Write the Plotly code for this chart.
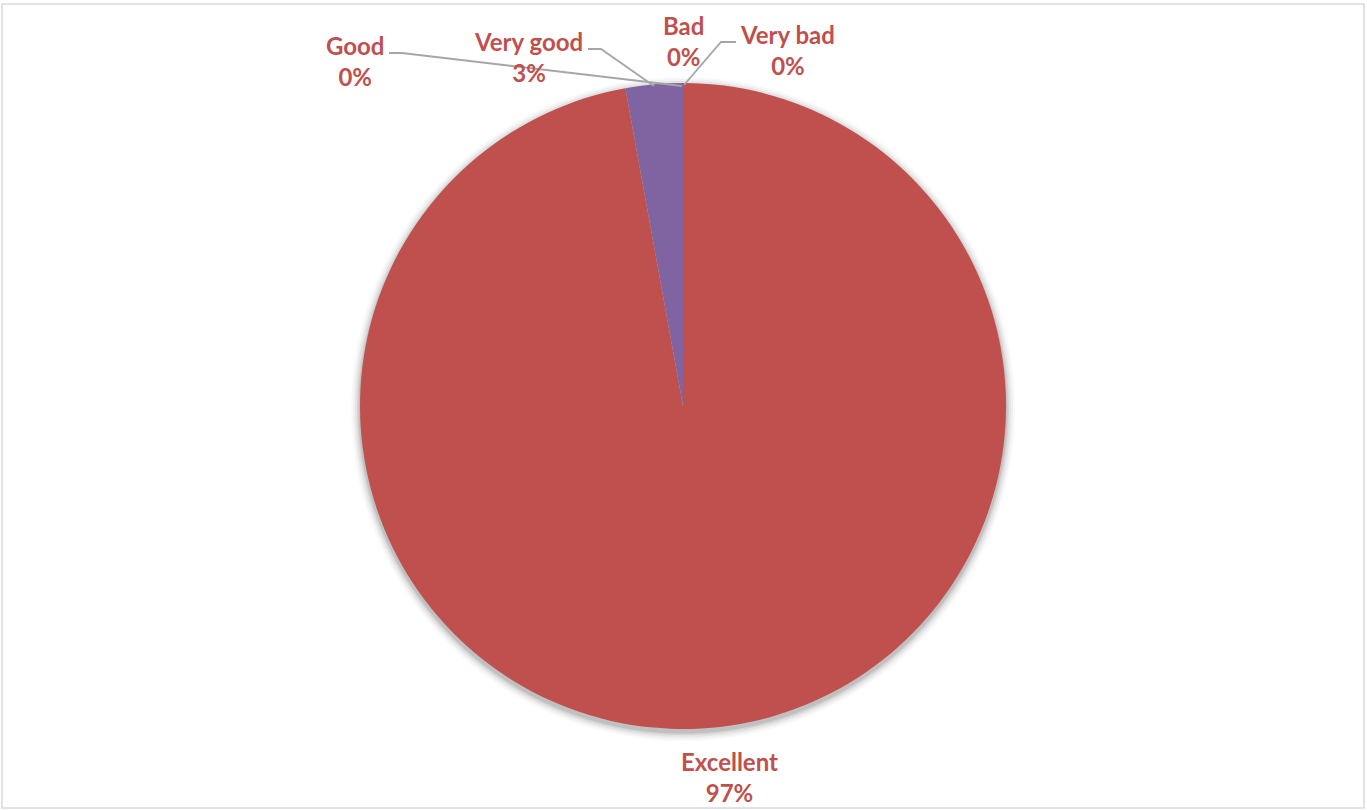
import plotly.graph_objects as go

# ---- data ----
categories = ["Excellent", "Very good", "Good", "Bad", "Very bad"]
counts = [34, 1, 0, 0, 0]
slice_colors = ["#C0504D", "#8064A2", "#9BBB59", "#4BACC6", "#F79646"]

W, H = 1367, 810
total = sum(counts)
percents = [round(100 * c / total) for c in counts]


def px(x):
    return x / W


def py(y):
    return 1 - y / H


# pie geometry (pixels)
cx, cy, r = 683, 406, 323

fig = go.Figure()
fig.add_trace(go.Pie(
    labels=categories,
    values=counts,
    sort=False,
    direction="clockwise",
    rotation=0,
    marker=dict(colors=slice_colors, line=dict(width=0)),
    textinfo="none",
    hoverinfo="label+percent",
    showlegend=False,
    domain=dict(x=[px(cx - r), px(cx + r)], y=[py(cy + r), py(cy - r)]),
))

# label positions (pixel centres) and leader lines
label_pos = {
    "Excellent": (729, 777),
    "Very good": (528, 57),
    "Good": (355, 61),
    "Bad": (683, 41),
    "Very bad": (787, 50),
}
leaders = {
    "Good": [(389, 53), (402, 53), (682, 86)],
    "Very good": [(588, 49), (601, 49), (654, 86)],
    "Very bad": [(736, 42), (721, 42), (684, 85)],
}

shapes = []
# soft shadow
for dr, op in [(9, 0.025), (7, 0.035), (5, 0.05), (3, 0.07), (1.5, 0.09)]:
    rr = r + dr
    shapes.append(dict(
        type="circle", xref="paper", yref="paper",
        x0=px(cx - rr), x1=px(cx + rr), y0=py(cy + 3 + rr), y1=py(cy + 3 - rr),
        fillcolor=f"rgba(0,0,0,{op})", line=dict(width=0), layer="below",
    ))
for name, pts in leaders.items():
    path = "M " + " L ".join(f"{px(x)},{py(y)}" for x, y in pts)
    shapes.append(dict(type="path", xref="paper", yref="paper", path=path,
                       line=dict(color="#A6A6A6", width=1.8)))
# outer border
shapes.append(dict(type="rect", xref="paper", yref="paper",
                   x0=px(2), x1=px(1364), y0=py(808), y1=py(4),
                   line=dict(color="#D9D9D9", width=1.5)))

annotations = []
for cat, pct in zip(categories, percents):
    x, y = label_pos[cat]
    annotations.append(dict(
        x=px(x), y=py(y), xref="paper", yref="paper",
        text=f"<b>{cat}</b><br><b>{pct}%</b>",
        showarrow=False, xanchor="center", yanchor="middle",
        font=dict(family="Lato", size=24, color="#C0504D"),
    ))

fig.update_layout(
    width=W, height=H,
    margin=dict(l=0, r=0, t=0, b=0),
    paper_bgcolor="white",
    plot_bgcolor="white",
    shapes=shapes,
    annotations=annotations,
)

fig.write_html(
    "out.html",
    config={"displayModeBar": False},
    post_script="document.body.style.margin='0';document.body.style.overflow='hidden';",
)
